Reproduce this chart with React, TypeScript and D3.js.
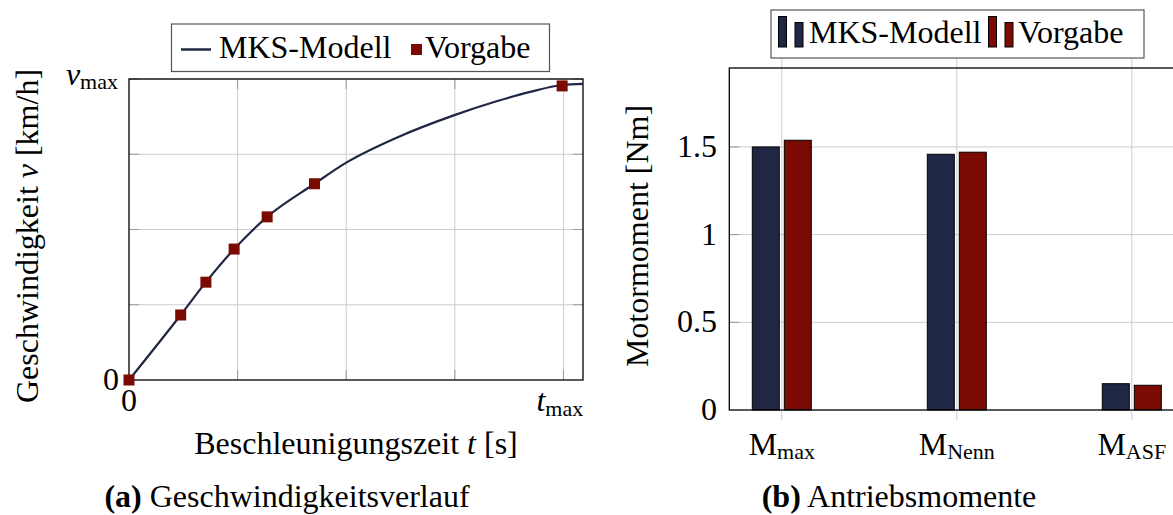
import * as d3 from "d3";

// ---- left panel: speed over time (normalised to t_max / v_max)
const timeTicks = [0, 0.25, 0.5, 0.75, 1];
const speedTicks = [0, 0.25, 0.5, 0.75, 1];
const modelT = [0, 0.119, 0.177, 0.242, 0.318, 0.427, 0.5, 0.616, 0.749, 0.846, 0.923, 0.997, 1.047];
const modelV = [0, 0.216, 0.325, 0.435, 0.542, 0.652, 0.722, 0.805, 0.88, 0.926, 0.957, 0.98, 0.984];
const targetT = [0, 0.119, 0.177, 0.242, 0.318, 0.427, 0.997];
const targetV = [0, 0.216, 0.325, 0.435, 0.542, 0.652, 0.977];

// ---- right panel: motor torques
const torqueCats = ["max", "Nenn", "ASF"];
const mksTorque = [1.5, 1.458, 0.15];
const targetTorque = [1.538, 1.47, 0.141];
const torqueTicks = [0, 0.5, 1, 1.5];

const NAVY = "#1f2745";
const RED = "#7b0a02";
const GRID = "#cccccc";
const TICK = "#9a9a9a";
const FONT = "Liberation Serif, DejaVu Serif, serif";
const FS = 32;
const SUB = 22;
const txt = { fontFamily: FONT, fontSize: FS };

function LeftChart() {
  const x = d3.scaleLinear().domain([0, 1.045]).range([129, 583]);
  const y = d3.scaleLinear().domain([0, 1]).range([380, 79]);
  const line = d3
    .line<number>()
    .x((_, i) => x(modelT[i]))
    .y((d) => y(d))
    .curve(d3.curveMonotoneX);
  const [x0, x1] = x.range();
  const [y0, y1] = y.range();

  return (
    <g>
      <defs>
        <clipPath id="clipL">
          <rect x={x0} y={y1} width={x1 - x0} height={y0 - y1} />
        </clipPath>
      </defs>
      {/* grid */}
      {timeTicks.slice(1).map((t) => (
        <line key={"gx" + t} x1={x(t)} x2={x(t)} y1={y0} y2={y1} stroke={GRID} />
      ))}
      {speedTicks.slice(1).map((v) => (
        <line key={"gy" + v} x1={x0} x2={x1} y1={y(v)} y2={y(v)} stroke={GRID} />
      ))}
      {/* inside ticks */}
      {timeTicks.slice(1).map((t) => (
        <g key={"tx" + t} stroke={TICK}>
          <line x1={x(t)} x2={x(t)} y1={y0} y2={y0 - 10} />
          <line x1={x(t)} x2={x(t)} y1={y1} y2={y1 + 10} />
        </g>
      ))}
      {speedTicks.slice(1).map((v) => (
        <g key={"ty" + v} stroke={TICK}>
          <line x1={x0} x2={x0 + 10} y1={y(v)} y2={y(v)} />
          <line x1={x1} x2={x1 - 10} y1={y(v)} y2={y(v)} />
        </g>
      ))}
      <rect x={x0} y={y1} width={x1 - x0} height={y0 - y1} fill="none" stroke="#000" strokeWidth={1.3} />
      <path d={line(modelV) || ""} fill="none" stroke={NAVY} strokeWidth={2.2} clipPath="url(#clipL)" />
      {targetV.map((v, i) => (
        <rect key={i} x={x(targetT[i]) - 5.5} y={y(v) - 5.5} width={11} height={11} fill={RED} />
      ))}

      {/* tick labels */}
      <g style={txt} fill="#000">
        <text x={x(0)} y={411} textAnchor="middle">0</text>
        <text x={x(1) - 27} y={411}>
          <tspan fontStyle="italic">t</tspan>
          <tspan fontSize={SUB} dy={5}>max</tspan>
        </text>
        <text x={119} y={y(0) + 10} textAnchor="end">0</text>
        <text x={118} y={y(1) + 6} textAnchor="end">
          <tspan fontStyle="italic">v</tspan>
          <tspan fontSize={SUB} dy={4}>max</tspan>
        </text>
        <text x={356} y={454} textAnchor="middle">
          Beschleunigungszeit <tspan fontStyle="italic">t</tspan> [s]
        </text>
        <text transform="translate(38,236) rotate(-90)" textAnchor="middle">
          Geschwindigkeit <tspan fontStyle="italic">v</tspan> [km/h]
        </text>
        <text x={287} y={507} textAnchor="middle">
          <tspan fontWeight="bold">(a)</tspan> Geschwindigkeitsverlauf
        </text>
      </g>

      {/* legend */}
      <rect x={171.5} y={24} width={378} height={47.5} fill="#fff" stroke="#555" strokeWidth={1.2} />
      <line x1={181} x2={211} y1={49.5} y2={49.5} stroke={NAVY} strokeWidth={2.5} />
      <rect x={411} y={44} width={11} height={11} fill={RED} />
      <g style={txt}>
        <text x={219} y={58}>MKS-Modell</text>
        <text x={425} y={58}>Vorgabe</text>
      </g>
    </g>
  );
}

function RightChart() {
  const x = d3.scaleLinear().domain([-0.3, 2.3]).range([729.3, 729.3 + 175 * 2.6]);
  const y = d3.scaleLinear().domain([0, 1.95]).range([410, 68]);
  const [x0, x1] = x.range();
  const [y0, y1] = y.range();
  const bw = 27;
  const off = 16;
  const idx = torqueCats.map((_, i) => i);

  return (
    <g>
      {torqueTicks.slice(1).map((v) => (
        <line key={"gy" + v} x1={x0} x2={x1} y1={y(v)} y2={y(v)} stroke={GRID} />
      ))}
      {idx.map((i) => (
        <g key={"gx" + i} stroke={GRID}>
          <line x1={x(i)} x2={x(i)} y1={y0 + 10} y2={y1 - 10} />
        </g>
      ))}
      {torqueTicks.slice(1).map((v) => (
        <line key={"ty" + v} x1={x0} x2={x0 + 10} y1={y(v)} y2={y(v)} stroke={TICK} />
      ))}
      {idx.map((i) => (
        <g key={"b" + i} stroke="#000" strokeWidth={1}>
          <rect x={x(i) - off - bw / 2} y={y(mksTorque[i])} width={bw} height={y0 - y(mksTorque[i])} fill={NAVY} />
          <rect x={x(i) + off - bw / 2} y={y(targetTorque[i])} width={bw} height={y0 - y(targetTorque[i])} fill={RED} />
        </g>
      ))}
      <rect x={x0} y={y1} width={x1 - x0} height={y0 - y1} fill="none" stroke="#000" strokeWidth={1.3} />

      <g style={txt} fill="#000">
        {torqueTicks.map((v) => (
          <text key={"l" + v} x={717} y={y(v) + 10} textAnchor="end">
            {d3.format("~g")(v)}
          </text>
        ))}
        {torqueCats.map((c, i) => (
          <text key={c} x={x(i)} y={455} textAnchor="middle">
            M<tspan fontSize={SUB} dy={4}>{c}</tspan>
          </text>
        ))}
        <text transform="translate(648,236) rotate(-90)" textAnchor="middle">
          Motormoment [Nm]
        </text>
        <text x={899} y={507} textAnchor="middle">
          <tspan fontWeight="bold">(b)</tspan> Antriebsmomente
        </text>
      </g>

      {/* legend */}
      <rect x={771} y={10} width={373} height={48} fill="#fff" stroke="#555" strokeWidth={1.2} />
      <g stroke="#000" strokeWidth={1}>
        <rect x={778.5} y={16.5} width={8} height={30.5} fill={NAVY} />
        <rect x={795} y={22.5} width={8} height={24.5} fill={NAVY} />
        <rect x={988.5} y={16.5} width={8} height={30.5} fill={RED} />
        <rect x={1005} y={22.5} width={8} height={24.5} fill={RED} />
      </g>
      <g style={txt}>
        <text x={809} y={43}>MKS-Modell</text>
        <text x={1018} y={43}>Vorgabe</text>
      </g>
    </g>
  );
}

export default function App() {
  return (
    <svg
      width={1173}
      height={515}
      style={{ position: "absolute", left: 0, top: 0, background: "#fff" }}
    >
      <rect width={1173} height={515} fill="#fff" />
      <LeftChart />
      <RightChart />
    </svg>
  );
}
